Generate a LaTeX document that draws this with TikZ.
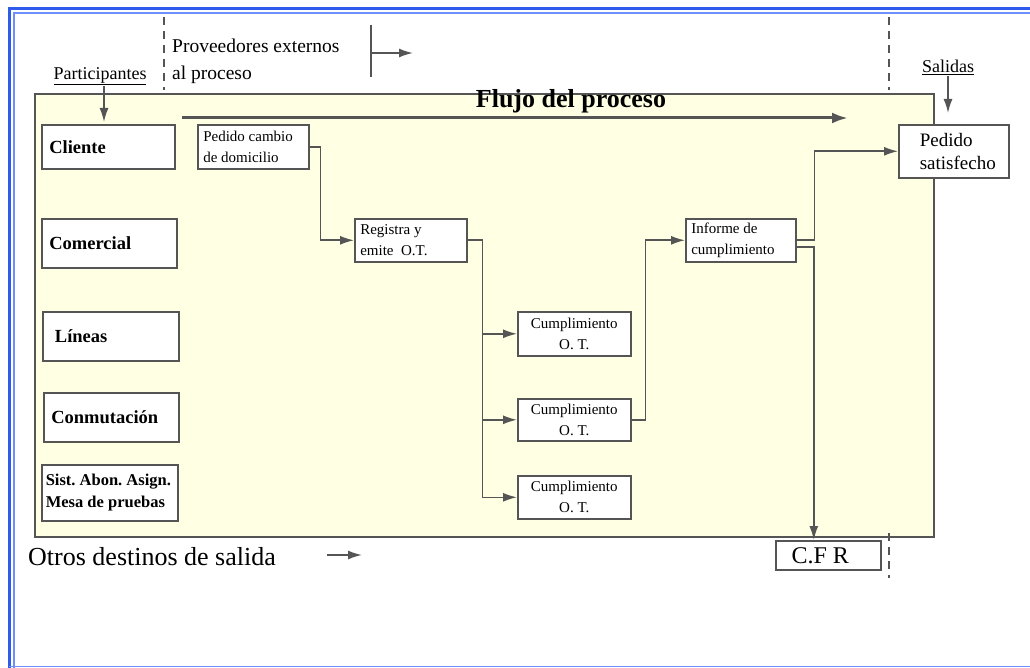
\documentclass[tikz,border=0pt]{standalone}
\usepackage{fontspec}
\setmainfont{Liberation Serif}
\usetikzlibrary{arrows.meta}
\definecolor{linegray}{HTML}{555555}
\definecolor{areafill}{HTML}{FFFFE3}
\definecolor{frameblue}{HTML}{2F5BEA}
\definecolor{frameblue2}{HTML}{6F8FFF}
\newcommand{\fs}[2]{\fontsize{#1}{#2}\selectfont}
\frenchspacing
\begin{document}
\begin{tikzpicture}[x=1pt, y=-1pt,
    line/.style={draw=linegray, line width=1.6pt},
    flow/.style={line, -{Latex[length=14pt,width=9pt]}},
    bigflow/.style={draw=linegray, line width=3pt, -{Latex[length=16pt,width=11pt]}},
    guide/.style={draw=linegray, line width=1.4pt, dash pattern=on 8pt off 6pt},
    box/.style={draw=linegray, line width=1.6pt, fill=white, anchor=north west, inner sep=3pt},
    part/.style={box, font=\bfseries\fs{18.5}{19}, align=flush left, text width=#1, inner xsep=7pt},
    task/.style={box, font=\fs{15}{21}, align=flush left, inner xsep=5pt, text width=#1},
    done/.style={box, font=\fs{15}{21}, align=center}]
  \useasboundingbox (0,0) rectangle (1030,668);
  % marco
  \fill[white] (0,0) rectangle (1030,668);
  \draw[frameblue, line width=3pt] (9.5,668) -- (9.5,8.5) -- (1030,8.5);
  \draw[frameblue2, line width=1.5pt] (14,668) -- (14,13) -- (1030,13);
  \draw[frameblue2, line width=1pt] (9,666) -- (1030,666);
  % area del proceso
  \draw[line, fill=areafill] (35,94) rectangle (934,537);
  % guias
  \draw[guide] (164,17) -- (164,90);
  \draw[guide] (889,17) -- (889,90);
  \draw[guide] (889,533) -- (889,578);
  % textos de cabecera
  \node[anchor=west, font=\fs{19.5}{27}, align=left, inner sep=0pt] (prov) at (172,61) {Proveedores externos\\al\ proceso};
  \coordinate (pv1) at (371,25);
  \coordinate (pv2) at (371,77);
  \coordinate (pv3) at (371,53);
  \coordinate (pv4) at (413,53);
  \draw[line] (pv1) -- (pv2);
  \draw[flow] (pv3) -- (pv4);
  \node[font=\fs{18}{20}, inner sep=1pt] (partic) at (100,76) {\underline{Participantes}};
  \node[font=\fs{18}{20}, inner sep=1pt] (salidas) at (948,67) {\underline{Salidas}};
  \node[font=\bfseries\fs{26}{28}] (flujo) at (571,101) {Flujo del proceso};
  \coordinate (f1) at (182,118);
  \coordinate (f2) at (848,118);
  \draw[bigflow] (f1) -- (f2);
  % participantes
  \node[part=118pt, minimum width=133pt, minimum height=44pt] (cliente) at (41,124) {Cliente};
  \node[part=120pt, minimum width=135pt, minimum height=49pt] (comercial) at (41,218) {Comercial};
  \node[part=121pt, minimum width=136pt, minimum height=49pt] (lineas) at (42,311) {\ Líneas};
  \node[part=120pt, minimum width=135pt, minimum height=49pt] (conmut) at (43,392) {Conmutación};
  \node[part=128pt, minimum width=135pt, minimum height=56pt, inner xsep=4pt, font=\bfseries\fs{16.5}{22}] (sist) at (41,464) {Sist. Abon. Asign.\\Mesa de pruebas};
  % tareas
  \node[task=100pt, minimum width=111pt, minimum height=44pt] (pedido) at (197,124) {Pedido cambio\\de domicilio};
  \node[task=101pt, minimum width=112pt, minimum height=43pt] (registra) at (354,218) {Registra y\\emite\ \ O.T.};
  \node[done, minimum width=113pt, minimum height=44pt] (cumpl1) at (517,311) {Cumplimiento\\O. T.};
  \node[done, minimum width=113pt, minimum height=42pt] (cumpl2) at (517,398) {Cumplimiento\\O. T.};
  \node[done, minimum width=113pt, minimum height=43pt] (cumpl3) at (517,475) {Cumplimiento\\O. T.};
  \node[task=99pt, minimum width=110pt, minimum height=43pt] (informe) at (685,218) {Informe de\\cumplimiento};
  \node[box, font=\fs{19}{23}, minimum width=110pt, minimum height=53pt, text width=96pt, align=flush left, inner xsep=6pt] (satisf) at (898,124) {\hspace*{14pt}Pedido\\\hspace*{14pt}satisfecho};
  \node[box, font=\fs{24}{26}, minimum width=105pt, minimum height=29pt, inner sep=1pt, align=center] (cfr) at (775,540) {C.F R\hspace*{16pt}};
  % salidas
  \node[anchor=west, font=\fs{26}{28}, inner sep=0pt] (otros) at (28,557) {Otros destinos de salida};
  \coordinate (o1) at (327,555);
  \coordinate (o2) at (362,555);
  \draw[flow] (o1) -- (o2);
  % conexiones
  \draw[flow] (partic.south -| 104,0) -- (104,122);
  \draw[flow] (salidas.south) -- (salidas.south |- satisf.north) [shorten >=11pt];
  \draw[flow] (pedido.east) -- ++(11,0) |- (registra.west);
  \draw[flow] (registra.east) -- ++(15,0) |- (cumpl1.west);
  \draw[flow] (registra.east) -- ++(15,0) |- (cumpl2.west);
  \draw[flow] (registra.east) -- ++(15,0) |- (cumpl3.west);
  \draw[flow] (cumpl2.east) -- ++(14,0) |- (informe.west);
  \draw[flow] (informe.east) -- ++(18,0) |- (satisf.west);
  \draw[flow] ([yshift=-7pt]informe.east) -| ([xshift=-14.5pt]cfr.north);
\end{tikzpicture}
\end{document}
